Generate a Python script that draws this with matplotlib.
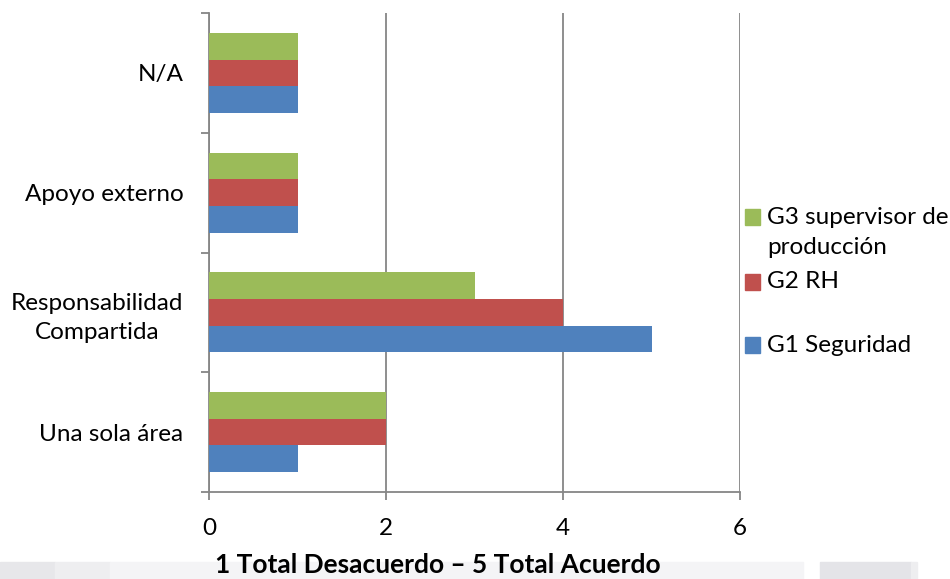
import matplotlib
matplotlib.use("Agg")
import matplotlib.pyplot as plt
from matplotlib.patches import Rectangle
import numpy as np

categories = ["Una sola área", "Responsabilidad\nCompartida", "Apoyo externo", "N/A"]
g1_seguridad = [1, 5, 1, 1]
g2_rh = [2, 4, 1, 1]
g3_supervisor = [2, 3, 1, 1]
series_labels = ["G1 Seguridad", "G2 RH", "G3 supervisor de\nproducción"]
x_ticks = [0, 2, 4, 6]
x_title = "1 Total Desacuerdo – 5 Total Acuerdo"

colors = ["#4F81BD", "#C0504D", "#9BBB59"]
axis_gray = "#868686"
font = "Lato"
fs = 17.5

W, H = 950, 579
fig = plt.figure(figsize=(W / 100, H / 100), dpi=100)
ax = fig.add_axes([209 / W, 1 - 492 / H, (740 - 209) / W, (492 - 13) / H])

y = np.arange(len(categories))
h = 0.222
for i, vals in enumerate([g1_seguridad, g2_rh, g3_supervisor]):
    ax.barh(y + (i - 1) * h, vals, height=h, color=colors[i], zorder=3)

ax.set_xlim(0, 6)
ax.set_ylim(-0.5, len(categories) - 0.5)
ax.set_xticks(x_ticks)
ax.set_xticklabels([str(t) for t in x_ticks], family=font, fontsize=fs)
ax.xaxis.grid(True, color=axis_gray, linewidth=1.3, zorder=0)

# category labels centred between boundary ticks
ax.set_yticks(np.arange(-0.5, len(categories), 1.0))
ax.set_yticklabels([])
ax.set_yticks(y, minor=True)
ax.set_yticklabels(categories, minor=True, family=font, fontsize=fs,
                   ha="right", multialignment="center", linespacing=1.45)
ax.tick_params(axis="y", which="major", length=6, width=1.3, color=axis_gray, direction="out")
ax.tick_params(axis="y", which="minor", length=0, pad=18.5)
ax.tick_params(axis="x", length=6, width=1.3, color=axis_gray, direction="out", pad=13)

for s in ["top", "right"]:
    ax.spines[s].set_visible(False)
for s in ["left", "bottom"]:
    ax.spines[s].set_color(axis_gray)
    ax.spines[s].set_linewidth(1.3)

fig.text(438 / W, 1 - 565 / H, x_title, family=font, fontsize=19, fontweight="bold",
         ha="center", va="center", zorder=5)

# legend entries, top to bottom
legend_rows = [(2, 217), (1, 282), (0, 345)]
for idx, yc in legend_rows:
    fig.add_artist(Rectangle((745 / W, 1 - (yc + 8) / H), 15 / W, 16 / H,
                             transform=fig.transFigure, color=colors[idx]))
    fig.text(767 / W, 1 - yc / H, series_labels[idx].split("\n")[0], family=font,
             fontsize=fs, ha="left", va="center")
fig.text(767 / W, 1 - 248 / H, series_labels[2].split("\n")[1], family=font,
         fontsize=fs, ha="left", va="center")

# faint grey band along the bottom edge
band = [(0, 55, "#e7e7ea"), (55, 110, "#eeeef0"), (110, 803, "#f4f4f6"),
        (820, 911, "#e4e4e8"), (911, 917, "#eeeef0")]
for x0, x1, c in band:
    fig.add_artist(Rectangle((x0 / W, 0), (x1 - x0) / W, 17 / H,
                             transform=fig.transFigure, color=c, zorder=0))

fig.savefig("out.png", dpi=100)
